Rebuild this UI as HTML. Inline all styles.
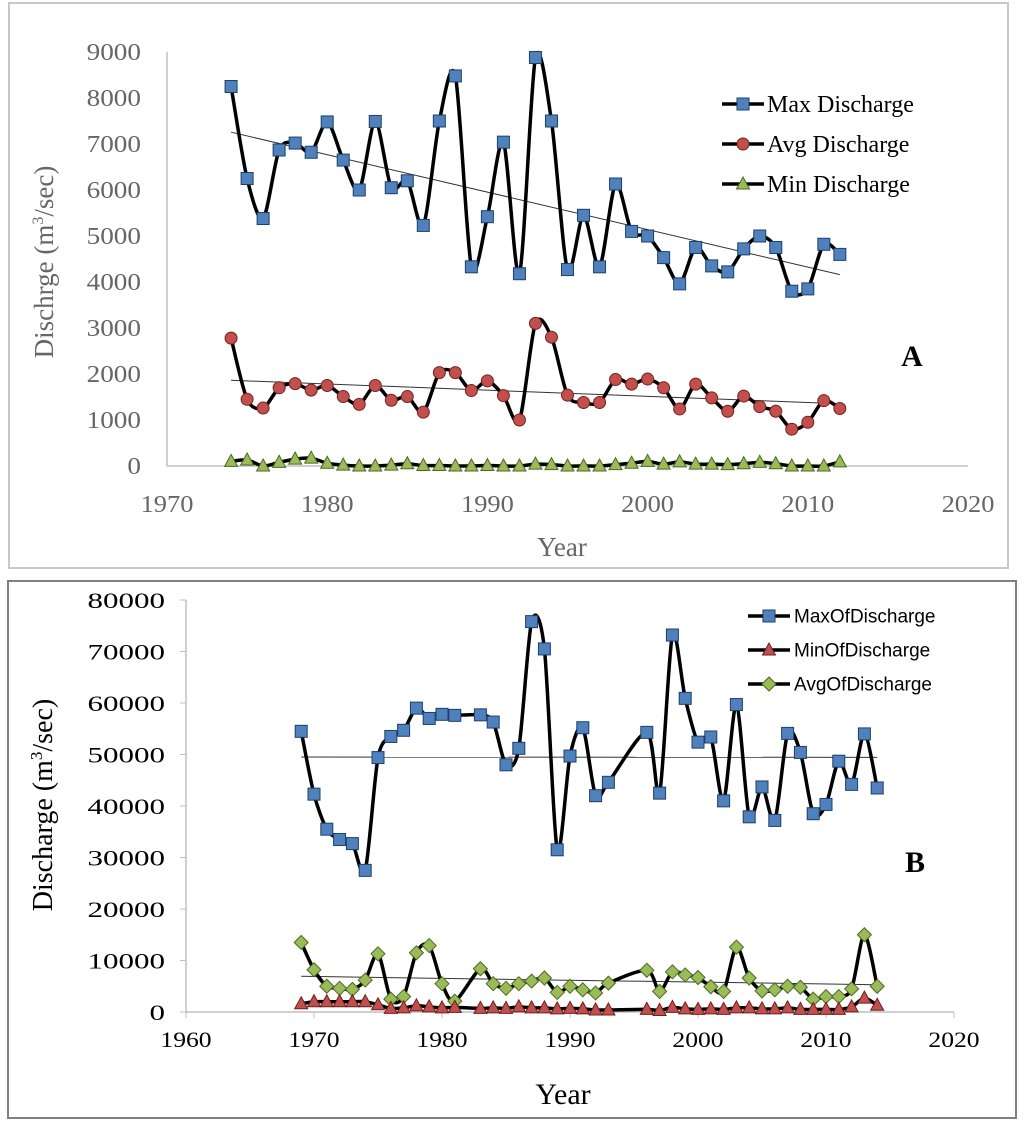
<!DOCTYPE html>
<html><head><meta charset="utf-8"><style>
body{margin:0;background:#fff;width:1024px;height:1123px;overflow:hidden}
svg{display:block}
</style></head><body>
<svg id="chart" width="1024" height="1123" viewBox="0 0 1024 1123" xmlns="http://www.w3.org/2000/svg">
<rect x="9" y="3" width="999" height="565" fill="#fff" stroke="#c8c8c8" stroke-width="2"/>
<rect x="8" y="581" width="1008" height="537" fill="#fff" stroke="#808080" stroke-width="2"/>
<g id="gA"></g><g id="gB"></g>
</svg>
<script>
// Panel A data
const yearsA=[1974,1975,1976,1977,1978,1979,1980,1981,1982,1983,1984,1985,1986,1987,1988,1989,1990,1991,1992,1993,1994,1995,1996,1997,1998,1999,2000,2001,2002,2003,2004,2005,2006,2007,2008,2009,2010,2011,2012];
const maxA=[8250,6250,5380,6870,7020,6820,7480,6650,6000,7490,6050,6200,5230,7500,8480,4330,5420,7040,4180,8880,7500,4270,5450,4330,6130,5100,5000,4530,3960,4750,4350,4220,4720,5000,4750,3800,3850,4820,4600];
const avgA=[2780,1450,1260,1700,1790,1650,1750,1510,1340,1750,1430,1510,1170,2030,2030,1640,1850,1530,1000,3100,2800,1540,1380,1380,1880,1780,1890,1700,1240,1780,1480,1190,1520,1290,1190,800,950,1420,1250];
const minA=[100,130,0,80,150,170,60,20,0,0,20,50,10,10,0,0,10,0,0,40,30,0,0,0,30,60,100,40,90,40,40,30,50,80,50,0,0,0,90];
const xTicksA=[1970,1980,1990,2000,2010,2020];
const yTicksA=[0,1000,2000,3000,4000,5000,6000,7000,8000,9000];
// Panel B data
const yearsB=[1969,1970,1971,1972,1973,1974,1975,1976,1977,1978,1979,1980,1981,1983,1984,1985,1986,1987,1988,1989,1990,1991,1992,1993,1996,1997,1998,1999,2000,2001,2002,2003,2004,2005,2006,2007,2008,2009,2010,2011,2012,2013,2014];
const maxB=[54500,42300,35500,33500,32700,27500,49400,53500,54700,59000,57000,57800,57600,57700,56300,48000,51200,75800,70500,31500,49700,55200,42000,44600,54300,42500,73200,60900,52400,53400,41000,59700,37900,43700,37200,54100,50400,38500,40300,48700,44200,54000,43500];
const minB=[1600,2000,2000,2000,2000,2000,1400,700,800,1200,1000,800,900,700,800,700,1000,800,800,600,700,600,400,400,500,300,900,600,500,600,500,800,800,600,600,800,500,500,500,500,1000,2700,1300];
const avgB=[13500,8200,5000,4600,4400,6200,11300,2500,3000,11500,12900,5500,2100,8400,5500,4600,5500,6000,6600,3800,5000,4300,3700,5600,8100,4000,7800,7200,6700,4900,4000,12600,6600,4100,4300,5000,4800,2500,3000,3000,4500,15000,5000];
const xTicksB=[1960,1970,1980,1990,2000,2010,2020];
const yTicksB=[0,10000,20000,30000,40000,50000,60000,70000,80000];

const NS='http://www.w3.org/2000/svg';
function mk(tag,attrs,parent){const e=document.createElementNS(NS,tag);for(const k in attrs)e.setAttribute(k,attrs[k]);parent.appendChild(e);return e;}
function smooth(pts){let d='M'+pts[0][0]+','+pts[0][1];for(let i=0;i<pts.length-1;i++){const p0=pts[i-1]||pts[i],p1=pts[i],p2=pts[i+1],p3=pts[i+2]||p2;const t=1/7;d+=' C'+(p1[0]+(p2[0]-p0[0])*t)+','+(p1[1]+(p2[1]-p0[1])*t)+' '+(p2[0]-(p3[0]-p1[0])*t)+','+(p2[1]-(p3[1]-p1[1])*t)+' '+p2[0]+','+p2[1];}return d;}
function reg(xs,ys){const n=xs.length;let mx=0,my=0;for(let i=0;i<n;i++){mx+=xs[i];my+=ys[i];}mx/=n;my/=n;let a=0,b=0;for(let i=0;i<n;i++){a+=(xs[i]-mx)*(ys[i]-my);b+=(xs[i]-mx)**2;}const s=a/b;return x=>my+s*(x-mx);}
function marker(g,type,x,y,fill){let e;
 if(type==='sq'){e=mk('rect',{x:x-6,y:y-6,width:12,height:12,fill:fill,stroke:'#1f3f6a','stroke-width':1},g);}
 else if(type==='ci'){e=mk('circle',{cx:x,cy:y,r:6,fill:fill,stroke:'#7a1f1f','stroke-width':1},g);}
 else if(type==='tr'){e=mk('polygon',{points:`${x},${y-7} ${x+6.5},${y+5} ${x-6.5},${y+5}`,fill:fill,stroke:fill==='#c0504d'?'#6d1f1d':'#4a6a1f','stroke-width':1},g);}
 else {e=mk('polygon',{points:`${x},${y-7} ${x+7},${y} ${x},${y+7} ${x-7},${y}`,fill:fill,stroke:'#4a6a1f','stroke-width':1},g);}
 return e;}

function drawPanel(g,cfg){
 const X=v=>cfg.x0+(v-cfg.xmin)/(cfg.xmax-cfg.xmin)*(cfg.x1-cfg.x0);
 const Y=v=>cfg.y0-(v-cfg.ymin)/(cfg.ymax-cfg.ymin)*(cfg.y0-cfg.y1);
 const ax=mk('line',{x1:cfg.x0,y1:cfg.y0,x2:cfg.x1,y2:cfg.y0,stroke:'#bfbfbf','stroke-width':1.5},g);
 
 const ay=mk('line',{x1:cfg.x0,y1:cfg.y0,x2:cfg.x0,y2:cfg.y1,stroke:'#bfbfbf','stroke-width':1.5},g);
 
 cfg.xt.forEach(v=>{const s=String(v);const t=mk('text',{x:X(v),y:cfg.y0+cfg.xlOff,'text-anchor':'middle','font-size':cfg.tfs,fill:cfg.tc,'font-family':'Liberation Serif, serif',textLength:s.length*cfg.xcw,lengthAdjust:'spacingAndGlyphs'},g);t.textContent=s;
  
  if(cfg.tickMarks){mk('line',{x1:X(v),y1:cfg.y0,x2:X(v),y2:cfg.y0+6,stroke:'#bfbfbf'},g);}});
 cfg.yt.forEach(v=>{const s=String(v);const t=mk('text',{x:cfg.x0-cfg.ylOff,y:Y(v)+8,'text-anchor':'end','font-size':cfg.tfs,fill:cfg.tc,'font-family':'Liberation Serif, serif',textLength:s.length*cfg.ycw,lengthAdjust:'spacingAndGlyphs'},g);t.textContent=s;
  
  if(cfg.tickMarks){mk('line',{x1:cfg.x0-6,y1:Y(v),x2:cfg.x0,y2:Y(v),stroke:'#bfbfbf'},g);}});
 cfg.series.forEach(s=>{
  const pts=s.years.map((yr,i)=>[X(yr),Y(s.vals[i])]);
  if(s.trend){const f=reg(s.years,s.vals);const a=s.years[0],b=s.years[s.years.length-1];
   const tl=mk('line',{x1:X(a),y1:Y(f(a)),x2:X(b),y2:Y(f(b)),stroke:'#333','stroke-width':1},g);
   }
  const p=mk('path',{d:smooth(pts),fill:'none',stroke:'#000','stroke-width':3.5},g);
  
  pts.forEach(q=>{const m=marker(g,s.mk,q[0],q[1],s.fill);
   });
 });
}

const gA=document.getElementById('gA'),gB=document.getElementById('gB');
drawPanel(gA,{x0:167,x1:968,y0:466,y1:52,xmin:1970,xmax:2020,ymin:0,ymax:9000,xt:xTicksA,yt:yTicksA,tfs:24,tc:'#666',xlOff:46,ylOff:26,xcw:13.2,ycw:13.6,tickMarks:false,
 series:[{name:'max-discharge',years:yearsA,vals:maxA,mk:'sq',fill:'#4f81bd',trend:true},
  {name:'avg-discharge',years:yearsA,vals:avgA,mk:'ci',fill:'#c0504d',trend:true},
  {name:'min-discharge',years:yearsA,vals:minA,mk:'tr',fill:'#9bbb59',trend:false}]});
drawPanel(gB,{x0:186,x1:954,y0:1012,y1:600,xmin:1960,xmax:2020,ymin:0,ymax:80000,xt:xTicksB,yt:yTicksB,tfs:22,tc:'#000',xlOff:35,ylOff:21,xcw:12.8,ycw:15.5,tickMarks:true,
 series:[{name:'max-of-discharge',years:yearsB,vals:maxB,mk:'sq',fill:'#4f81bd',trend:true},
  {name:'avg-of-discharge',years:yearsB,vals:avgB,mk:'di',fill:'#9bbb59',trend:true},
  {name:'min-of-discharge',years:yearsB,vals:minB,mk:'tr',fill:'#c0504d',trend:false}]});

function legend(g,x,y,dy,items,fs,font,tx){items.forEach((it,i)=>{const yy=y+i*dy;
 const l=mk('line',{x1:x,y1:yy,x2:x+42,y2:yy,stroke:'#000','stroke-width':3.5},g);
 
 const m=marker(g,it.mk,x+21,yy,it.fill);
 const t=mk('text',{x:x+tx,y:yy+fs*0.33,'font-size':fs,'font-family':font,fill:'#000'},g);t.textContent=it.label;
 });}
legend(gA,722,104,40,[{mk:'sq',fill:'#4f81bd',label:'Max Discharge'},{mk:'ci',fill:'#c0504d',label:'Avg Discharge'},{mk:'tr',fill:'#9bbb59',label:'Min Discharge'}],24,'Liberation Serif, serif',45);
legend(gB,748,616,34,[{mk:'sq',fill:'#4f81bd',label:'MaxOfDischarge'},{mk:'tr',fill:'#c0504d',label:'MinOfDischarge'},{mk:'di',fill:'#9bbb59',label:'AvgOfDischarge'}],19,'Liberation Sans, sans-serif',46);
</script>
<svg style="position:absolute;left:0;top:0" width="1024" height="1123">
<text transform="translate(53,262) rotate(-90)" text-anchor="middle" font-family="Liberation Serif, serif" font-size="27" fill="#666">Dischrge (m<tspan font-size="16" dy="-10">3</tspan><tspan dy="10">/sec)</tspan></text>
<text x="562" y="556" text-anchor="middle" font-family="Liberation Serif, serif" font-size="27" fill="#666">Year</text>
<text x="912" y="366" text-anchor="middle" font-family="Liberation Serif, serif" font-size="30" font-weight="bold">A</text>
<text transform="translate(52,805) rotate(-90)" text-anchor="middle" font-family="Liberation Serif, serif" font-size="28" fill="#000">Discharge  (m<tspan font-size="17" dy="-10">3</tspan><tspan dy="10">/sec)</tspan></text>
<text x="563" y="1104" text-anchor="middle" font-family="Liberation Serif, serif" font-size="30" fill="#000">Year</text>
<text x="915" y="872" text-anchor="middle" font-family="Liberation Serif, serif" font-size="30" font-weight="bold">B</text>
</svg>
</body></html>
